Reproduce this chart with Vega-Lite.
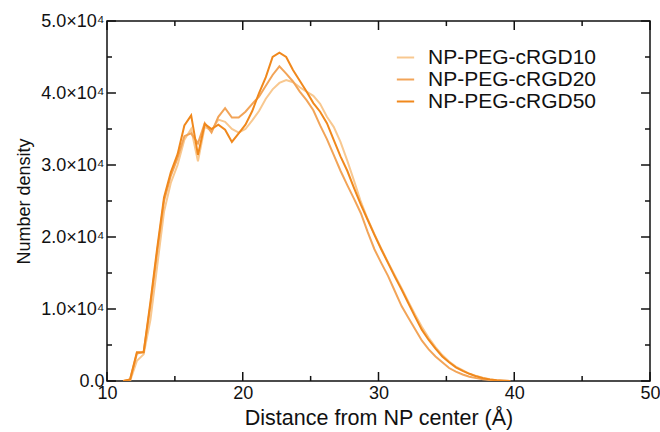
{
  "$schema": "https://vega.github.io/schema/vega-lite/v6.json",
  "autosize": {"type": "none"},
  "padding": {"left": 107, "top": 21, "right": 10, "bottom": 51},
  "width": 543,
  "height": 360,
  "background": "white",
  "config": {
    "view": {"stroke": "#111", "strokeWidth": 1.5},
    "font": "Liberation Sans",
    "axis": {"ticks": false, "domain": false, "grid": false, "labelColor": "#111", "labelFlush": false, "labelPadding": 3, "titleColor": "#111", "titleFontWeight": "normal"},
    "axisX": {"labelFontSize": 18, "titleFontSize": 21.5, "titlePadding": 5},
    "axisY": {"labelFontSize": 18, "titleFontSize": 18, "titlePadding": 7}
  },
  "datasets": {
    "xt": [
      {"v":10,"k":"major"},{"v":15,"k":"minor"},{"v":20,"k":"major"},{"v":25,"k":"minor"},{"v":30,"k":"major"},{"v":35,"k":"minor"},{"v":40,"k":"major"},{"v":45,"k":"minor"},{"v":50,"k":"major"}
    ],
    "yt": [
      {"v":0,"k":"major"},{"v":5000,"k":"minor"},{"v":10000,"k":"major"},{"v":15000,"k":"minor"},{"v":20000,"k":"major"},{"v":25000,"k":"minor"},{"v":30000,"k":"major"},{"v":35000,"k":"minor"},{"v":40000,"k":"major"},{"v":45000,"k":"minor"},{"v":50000,"k":"major"}
    ],
    "d": [
      {"s":"NP-PEG-cRGD10","x":11.2,"y":0},{"s":"NP-PEG-cRGD10","x":11.7,"y":0},{"s":"NP-PEG-cRGD10","x":12.2,"y":2800},{"s":"NP-PEG-cRGD10","x":12.7,"y":3700},{"s":"NP-PEG-cRGD10","x":13.2,"y":8500},{"s":"NP-PEG-cRGD10","x":13.7,"y":16000},{"s":"NP-PEG-cRGD10","x":14.2,"y":23500},{"s":"NP-PEG-cRGD10","x":14.7,"y":27500},{"s":"NP-PEG-cRGD10","x":15.2,"y":30000},{"s":"NP-PEG-cRGD10","x":15.7,"y":33500},{"s":"NP-PEG-cRGD10","x":16.2,"y":35000},{"s":"NP-PEG-cRGD10","x":16.7,"y":30500},{"s":"NP-PEG-cRGD10","x":17.2,"y":35300},{"s":"NP-PEG-cRGD10","x":17.7,"y":34800},{"s":"NP-PEG-cRGD10","x":18.2,"y":36300},{"s":"NP-PEG-cRGD10","x":18.7,"y":36000},{"s":"NP-PEG-cRGD10","x":19.2,"y":35000},{"s":"NP-PEG-cRGD10","x":19.7,"y":34500},{"s":"NP-PEG-cRGD10","x":20.2,"y":35000},{"s":"NP-PEG-cRGD10","x":20.7,"y":36200},{"s":"NP-PEG-cRGD10","x":21.2,"y":37500},{"s":"NP-PEG-cRGD10","x":21.7,"y":39200},{"s":"NP-PEG-cRGD10","x":22.2,"y":40500},{"s":"NP-PEG-cRGD10","x":22.7,"y":41400},{"s":"NP-PEG-cRGD10","x":23.2,"y":41800},{"s":"NP-PEG-cRGD10","x":23.7,"y":41500},{"s":"NP-PEG-cRGD10","x":24.2,"y":40800},{"s":"NP-PEG-cRGD10","x":24.7,"y":40200},{"s":"NP-PEG-cRGD10","x":25.2,"y":39600},{"s":"NP-PEG-cRGD10","x":25.7,"y":38500},{"s":"NP-PEG-cRGD10","x":26.2,"y":36700},{"s":"NP-PEG-cRGD10","x":26.7,"y":35300},{"s":"NP-PEG-cRGD10","x":27.2,"y":33200},{"s":"NP-PEG-cRGD10","x":27.7,"y":30600},{"s":"NP-PEG-cRGD10","x":28.2,"y":27800},{"s":"NP-PEG-cRGD10","x":28.7,"y":24900},{"s":"NP-PEG-cRGD10","x":29.2,"y":22500},{"s":"NP-PEG-cRGD10","x":29.7,"y":20400},{"s":"NP-PEG-cRGD10","x":30.2,"y":18400},{"s":"NP-PEG-cRGD10","x":30.7,"y":16500},{"s":"NP-PEG-cRGD10","x":31.2,"y":14700},{"s":"NP-PEG-cRGD10","x":31.7,"y":12900},{"s":"NP-PEG-cRGD10","x":32.2,"y":11000},{"s":"NP-PEG-cRGD10","x":32.7,"y":9200},{"s":"NP-PEG-cRGD10","x":33.2,"y":7500},{"s":"NP-PEG-cRGD10","x":33.7,"y":6000},{"s":"NP-PEG-cRGD10","x":34.2,"y":4700},{"s":"NP-PEG-cRGD10","x":34.7,"y":3600},{"s":"NP-PEG-cRGD10","x":35.2,"y":2700},{"s":"NP-PEG-cRGD10","x":35.7,"y":2000},{"s":"NP-PEG-cRGD10","x":36.2,"y":1500},{"s":"NP-PEG-cRGD10","x":36.7,"y":1000},{"s":"NP-PEG-cRGD10","x":37.2,"y":700},{"s":"NP-PEG-cRGD10","x":37.7,"y":450},{"s":"NP-PEG-cRGD10","x":38.2,"y":250},{"s":"NP-PEG-cRGD10","x":38.7,"y":120},{"s":"NP-PEG-cRGD10","x":39.2,"y":50},{"s":"NP-PEG-cRGD10","x":39.7,"y":0},
      {"s":"NP-PEG-cRGD20","x":11.2,"y":0},{"s":"NP-PEG-cRGD20","x":11.7,"y":200},{"s":"NP-PEG-cRGD20","x":12.2,"y":3800},{"s":"NP-PEG-cRGD20","x":12.7,"y":4000},{"s":"NP-PEG-cRGD20","x":13.2,"y":10500},{"s":"NP-PEG-cRGD20","x":13.7,"y":18000},{"s":"NP-PEG-cRGD20","x":14.2,"y":25000},{"s":"NP-PEG-cRGD20","x":14.7,"y":28500},{"s":"NP-PEG-cRGD20","x":15.2,"y":31000},{"s":"NP-PEG-cRGD20","x":15.7,"y":34000},{"s":"NP-PEG-cRGD20","x":16.2,"y":34400},{"s":"NP-PEG-cRGD20","x":16.7,"y":33000},{"s":"NP-PEG-cRGD20","x":17.2,"y":35800},{"s":"NP-PEG-cRGD20","x":17.7,"y":34500},{"s":"NP-PEG-cRGD20","x":18.2,"y":36700},{"s":"NP-PEG-cRGD20","x":18.7,"y":37900},{"s":"NP-PEG-cRGD20","x":19.2,"y":36600},{"s":"NP-PEG-cRGD20","x":19.7,"y":36600},{"s":"NP-PEG-cRGD20","x":20.2,"y":37400},{"s":"NP-PEG-cRGD20","x":20.7,"y":38500},{"s":"NP-PEG-cRGD20","x":21.2,"y":39500},{"s":"NP-PEG-cRGD20","x":21.7,"y":41000},{"s":"NP-PEG-cRGD20","x":22.2,"y":42500},{"s":"NP-PEG-cRGD20","x":22.7,"y":43700},{"s":"NP-PEG-cRGD20","x":23.2,"y":42700},{"s":"NP-PEG-cRGD20","x":23.7,"y":41600},{"s":"NP-PEG-cRGD20","x":24.2,"y":40200},{"s":"NP-PEG-cRGD20","x":24.7,"y":39000},{"s":"NP-PEG-cRGD20","x":25.2,"y":37600},{"s":"NP-PEG-cRGD20","x":25.7,"y":35500},{"s":"NP-PEG-cRGD20","x":26.2,"y":33600},{"s":"NP-PEG-cRGD20","x":26.7,"y":31400},{"s":"NP-PEG-cRGD20","x":27.2,"y":29200},{"s":"NP-PEG-cRGD20","x":27.7,"y":27200},{"s":"NP-PEG-cRGD20","x":28.2,"y":25300},{"s":"NP-PEG-cRGD20","x":28.7,"y":23300},{"s":"NP-PEG-cRGD20","x":29.2,"y":20700},{"s":"NP-PEG-cRGD20","x":29.7,"y":18300},{"s":"NP-PEG-cRGD20","x":30.2,"y":16400},{"s":"NP-PEG-cRGD20","x":30.7,"y":14600},{"s":"NP-PEG-cRGD20","x":31.2,"y":12500},{"s":"NP-PEG-cRGD20","x":31.7,"y":10400},{"s":"NP-PEG-cRGD20","x":32.2,"y":8800},{"s":"NP-PEG-cRGD20","x":32.7,"y":7200},{"s":"NP-PEG-cRGD20","x":33.2,"y":5600},{"s":"NP-PEG-cRGD20","x":33.7,"y":4400},{"s":"NP-PEG-cRGD20","x":34.2,"y":3400},{"s":"NP-PEG-cRGD20","x":34.7,"y":2600},{"s":"NP-PEG-cRGD20","x":35.2,"y":1800},{"s":"NP-PEG-cRGD20","x":35.7,"y":1300},{"s":"NP-PEG-cRGD20","x":36.2,"y":900},{"s":"NP-PEG-cRGD20","x":36.7,"y":600},{"s":"NP-PEG-cRGD20","x":37.2,"y":400},{"s":"NP-PEG-cRGD20","x":37.7,"y":250},{"s":"NP-PEG-cRGD20","x":38.2,"y":130},{"s":"NP-PEG-cRGD20","x":38.7,"y":60},{"s":"NP-PEG-cRGD20","x":39.2,"y":20},{"s":"NP-PEG-cRGD20","x":39.7,"y":0},
      {"s":"NP-PEG-cRGD50","x":11.2,"y":0},{"s":"NP-PEG-cRGD50","x":11.7,"y":200},{"s":"NP-PEG-cRGD50","x":12.2,"y":4000},{"s":"NP-PEG-cRGD50","x":12.7,"y":4000},{"s":"NP-PEG-cRGD50","x":13.2,"y":11000},{"s":"NP-PEG-cRGD50","x":13.7,"y":18500},{"s":"NP-PEG-cRGD50","x":14.2,"y":25500},{"s":"NP-PEG-cRGD50","x":14.7,"y":29000},{"s":"NP-PEG-cRGD50","x":15.2,"y":31500},{"s":"NP-PEG-cRGD50","x":15.7,"y":35500},{"s":"NP-PEG-cRGD50","x":16.2,"y":36900},{"s":"NP-PEG-cRGD50","x":16.7,"y":31400},{"s":"NP-PEG-cRGD50","x":17.2,"y":35700},{"s":"NP-PEG-cRGD50","x":17.7,"y":35000},{"s":"NP-PEG-cRGD50","x":18.2,"y":35600},{"s":"NP-PEG-cRGD50","x":18.7,"y":34900},{"s":"NP-PEG-cRGD50","x":19.2,"y":33200},{"s":"NP-PEG-cRGD50","x":19.7,"y":34400},{"s":"NP-PEG-cRGD50","x":20.2,"y":35600},{"s":"NP-PEG-cRGD50","x":20.7,"y":37500},{"s":"NP-PEG-cRGD50","x":21.2,"y":40000},{"s":"NP-PEG-cRGD50","x":21.7,"y":42200},{"s":"NP-PEG-cRGD50","x":22.2,"y":45000},{"s":"NP-PEG-cRGD50","x":22.7,"y":45600},{"s":"NP-PEG-cRGD50","x":23.2,"y":45000},{"s":"NP-PEG-cRGD50","x":23.7,"y":43200},{"s":"NP-PEG-cRGD50","x":24.2,"y":41700},{"s":"NP-PEG-cRGD50","x":24.7,"y":40200},{"s":"NP-PEG-cRGD50","x":25.2,"y":38600},{"s":"NP-PEG-cRGD50","x":25.7,"y":37400},{"s":"NP-PEG-cRGD50","x":26.2,"y":35800},{"s":"NP-PEG-cRGD50","x":26.7,"y":33500},{"s":"NP-PEG-cRGD50","x":27.2,"y":31200},{"s":"NP-PEG-cRGD50","x":27.7,"y":29200},{"s":"NP-PEG-cRGD50","x":28.2,"y":26800},{"s":"NP-PEG-cRGD50","x":28.7,"y":24500},{"s":"NP-PEG-cRGD50","x":29.2,"y":22400},{"s":"NP-PEG-cRGD50","x":29.7,"y":20300},{"s":"NP-PEG-cRGD50","x":30.2,"y":18300},{"s":"NP-PEG-cRGD50","x":30.7,"y":16400},{"s":"NP-PEG-cRGD50","x":31.2,"y":14500},{"s":"NP-PEG-cRGD50","x":31.7,"y":12700},{"s":"NP-PEG-cRGD50","x":32.2,"y":10800},{"s":"NP-PEG-cRGD50","x":32.7,"y":8900},{"s":"NP-PEG-cRGD50","x":33.2,"y":7100},{"s":"NP-PEG-cRGD50","x":33.7,"y":5700},{"s":"NP-PEG-cRGD50","x":34.2,"y":4500},{"s":"NP-PEG-cRGD50","x":34.7,"y":3400},{"s":"NP-PEG-cRGD50","x":35.2,"y":2600},{"s":"NP-PEG-cRGD50","x":35.7,"y":1900},{"s":"NP-PEG-cRGD50","x":36.2,"y":1400},{"s":"NP-PEG-cRGD50","x":36.7,"y":1000},{"s":"NP-PEG-cRGD50","x":37.2,"y":650},{"s":"NP-PEG-cRGD50","x":37.7,"y":400},{"s":"NP-PEG-cRGD50","x":38.2,"y":200},{"s":"NP-PEG-cRGD50","x":38.7,"y":100},{"s":"NP-PEG-cRGD50","x":39.2,"y":40},{"s":"NP-PEG-cRGD50","x":39.7,"y":0}
    ]
  },
  "layer": [
    {
      "data": {"name": "xt"},
      "transform": [{"filter": "datum.k === 'major'"}],
      "mark": {"type": "rule", "color": "#111", "strokeWidth": 1.5},
      "encoding": {
        "x": {"field": "v", "type": "quantitative", "scale": {"domain": [10, 50], "nice": false, "zero": false}},
        "y": {"datum": 0, "type": "quantitative", "scale": {"domain": [0, 50000], "nice": false}},
        "y2": {"datum": 1250}
      }
    },
    {
      "data": {"name": "xt"},
      "transform": [{"filter": "datum.k === 'minor'"}],
      "mark": {"type": "rule", "color": "#111", "strokeWidth": 1.5},
      "encoding": {
        "x": {"field": "v", "type": "quantitative"},
        "y": {"datum": 0, "type": "quantitative"},
        "y2": {"datum": 700}
      }
    },
    {
      "data": {"name": "xt"},
      "transform": [{"filter": "datum.k === 'major'"}],
      "mark": {"type": "rule", "color": "#111", "strokeWidth": 1.5},
      "encoding": {
        "x": {"field": "v", "type": "quantitative"},
        "y": {"datum": 50000, "type": "quantitative"},
        "y2": {"datum": 48750}
      }
    },
    {
      "data": {"name": "xt"},
      "transform": [{"filter": "datum.k === 'minor'"}],
      "mark": {"type": "rule", "color": "#111", "strokeWidth": 1.5},
      "encoding": {
        "x": {"field": "v", "type": "quantitative"},
        "y": {"datum": 50000, "type": "quantitative"},
        "y2": {"datum": 49300}
      }
    },
    {
      "data": {"name": "yt"},
      "transform": [{"filter": "datum.k === 'major'"}],
      "mark": {"type": "rule", "color": "#111", "strokeWidth": 1.5},
      "encoding": {
        "y": {"field": "v", "type": "quantitative"},
        "x": {"datum": 10, "type": "quantitative"},
        "x2": {"datum": 10.66}
      }
    },
    {
      "data": {"name": "yt"},
      "transform": [{"filter": "datum.k === 'minor'"}],
      "mark": {"type": "rule", "color": "#111", "strokeWidth": 1.5},
      "encoding": {
        "y": {"field": "v", "type": "quantitative"},
        "x": {"datum": 10, "type": "quantitative"},
        "x2": {"datum": 10.37}
      }
    },
    {
      "data": {"name": "yt"},
      "transform": [{"filter": "datum.k === 'major'"}],
      "mark": {"type": "rule", "color": "#111", "strokeWidth": 1.5},
      "encoding": {
        "y": {"field": "v", "type": "quantitative"},
        "x": {"datum": 50, "type": "quantitative"},
        "x2": {"datum": 49.34}
      }
    },
    {
      "data": {"name": "yt"},
      "transform": [{"filter": "datum.k === 'minor'"}],
      "mark": {"type": "rule", "color": "#111", "strokeWidth": 1.5},
      "encoding": {
        "y": {"field": "v", "type": "quantitative"},
        "x": {"datum": 50, "type": "quantitative"},
        "x2": {"datum": 49.63}
      }
    },
    {
      "data": {"name": "d"},
      "mark": {"type": "line", "strokeWidth": 2, "clip": true},
      "encoding": {
        "x": {"field": "x", "type": "quantitative",
          "scale": {"domain": [10, 50], "nice": false, "zero": false},
          "axis": {"orient": "bottom", "values": [10, 20, 30, 40, 50], "title": "Distance from NP center (Å)"}},
        "y": {"field": "y", "type": "quantitative",
          "scale": {"domain": [0, 50000], "nice": false},
          "axis": {"orient": "left", "values": [0, 10000, 20000, 30000, 40000, 50000],
            "labelExpr": "datum.value === 0 ? '0.0' : format(datum.value/10000, '.1f') + '×10⁴'",
            "title": "Number density"}},
        "color": {"field": "s", "type": "nominal",
          "scale": {"domain": ["NP-PEG-cRGD10", "NP-PEG-cRGD20", "NP-PEG-cRGD50"], "range": ["#f8c890", "#f2a458", "#f0881c"]},
          "legend": {"title": null, "orient": "none", "legendX": 288, "legendY": 26, "symbolType": "stroke", "symbolStrokeWidth": 2, "symbolSize": 300,
            "labelFontSize": 21, "labelLimit": 400, "labelColor": "#111", "labelOffset": 12, "rowPadding": 0}}
      }
    }
  ]
}
